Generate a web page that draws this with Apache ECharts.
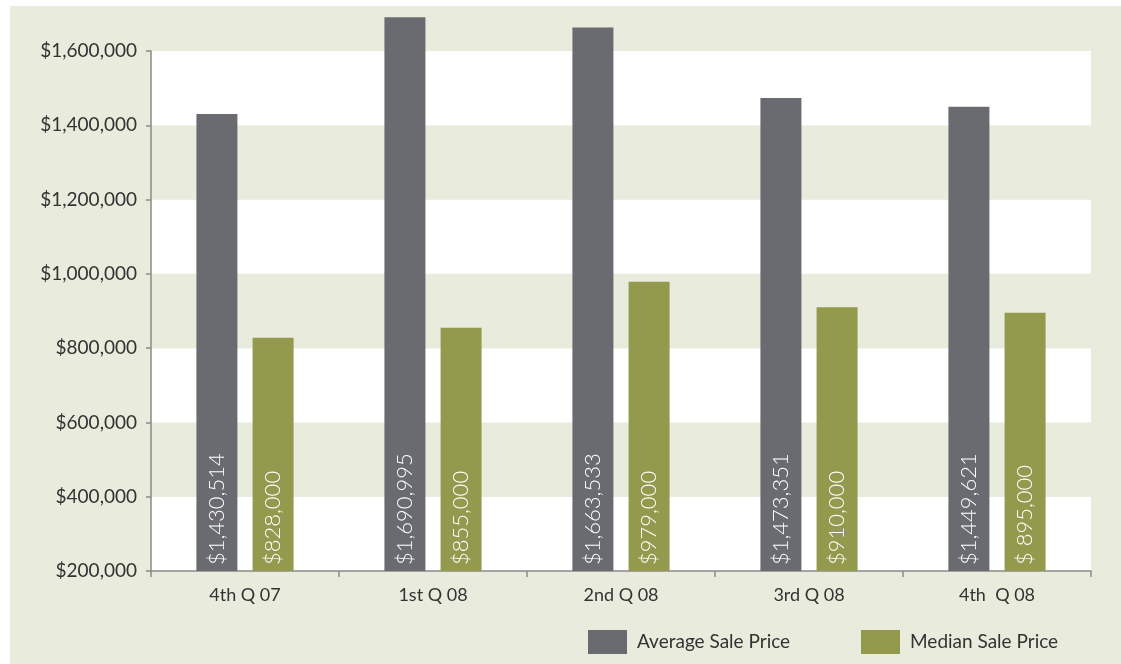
<!DOCTYPE html>
<html>
<head>
<meta charset="utf-8">
<script src="https://cdn.jsdelivr.net/npm/echarts@6/dist/echarts.min.js"></script>
<style>
  html, body { margin: 0; padding: 0; background: #ffffff; }
  #wrap { position: relative; width: 1121px; height: 664px; background: #ffffff; overflow: hidden; }
  #bg { position: absolute; left: 10px; top: 6px; right: 0; bottom: 0; background: #e9ebdc; }
  #chart { position: absolute; left: 0; top: 0; width: 1121px; height: 664px; }
</style>
</head>
<body>
<div id="wrap">
  <div id="bg"></div>
  <div id="chart"></div>
</div>
<script>
const categories = ['4th Q 07', '1st Q 08', '2nd Q 08', '3rd Q 08', '4th  Q 08'];
const averageSalePrice = [1430514, 1690995, 1663533, 1473351, 1449621];
const medianSalePrice = [828000, 855000, 979000, 910000, 895000];
const medianLabels = ['$828,000', '$855,000', '$979,000', '$910,000', '$ 895,000'];
const yTickMin = 200000;
const yTickMax = 1600000;
const yTickStep = 200000;
const yPlotMax = 1700000; // room above the last tick for the tallest bar

function money(v) {
  return '$' + Math.round(v).toLocaleString('en-US');
}

// Layout: axis ticks span y=51 (max tick) to y=571 (min tick)
const axisTopPx = 51, axisBottomPx = 571;
const pxPerUnit = (axisBottomPx - axisTopPx) / (yTickMax - yTickMin);
const plotTopPx = axisTopPx - (yPlotMax - yTickMax) * pxPerUnit;

const chart = echarts.init(document.getElementById('chart'), null, { renderer: 'canvas' });
const fontFamily = 'Lato, "Open Sans", sans-serif';
const axisColor = '#8a8a8a';
const labelCommon = {
  show: true,
  position: 'insideBottom',
  rotate: 90,
  align: 'left',
  verticalAlign: 'middle',
  distance: 6,
  color: '#ffffff',
  fontSize: 22,
  fontWeight: 300,
  fontFamily: fontFamily
};

chart.setOption({
  backgroundColor: 'transparent',
  animation: false,
  grid: [
    { left: 151, right: 30, top: plotTopPx, bottom: 664 - axisBottomPx },
    { left: 151, right: 30, top: axisTopPx, bottom: 664 - axisBottomPx }
  ],
  legend: [
    {
      left: 588, top: 630, itemWidth: 39, itemHeight: 24, padding: 0,
      icon: 'rect',
      data: ['Average Sale Price'],
      textStyle: { fontSize: 19, color: '#333333', fontFamily: fontFamily, padding: [0, 0, 0, 5] }
    },
    {
      left: 861, top: 630, itemWidth: 39, itemHeight: 24, padding: 0,
      icon: 'rect',
      data: ['Median Sale Price'],
      textStyle: { fontSize: 19, color: '#333333', fontFamily: fontFamily, padding: [0, 0, 0, 5] }
    }
  ],
  xAxis: [
    {
      type: 'category',
      gridIndex: 0,
      data: categories,
      axisLine: { lineStyle: { color: axisColor, width: 1.5 } },
      axisTick: { show: true, length: 6, lineStyle: { color: axisColor, width: 1.5 } },
      axisLabel: { color: '#333333', fontSize: 18, fontFamily: fontFamily, margin: 15 }
    },
    { type: 'category', gridIndex: 1, data: categories, show: false }
  ],
  yAxis: [
    {
      type: 'value',
      gridIndex: 0,
      min: yTickMin,
      max: yPlotMax,
      interval: yTickStep,
      axisLine: { show: false },
      axisTick: { show: false },
      axisLabel: { show: false },
      splitLine: { show: false },
      splitArea: { show: true, areaStyle: { color: ['#ffffff', '#e9ebdc'] } }
    },
    {
      type: 'value',
      gridIndex: 1,
      min: yTickMin,
      max: yTickMax,
      interval: yTickStep,
      axisLine: { show: true, lineStyle: { color: axisColor, width: 1.5 } },
      axisTick: { show: true, length: 5, lineStyle: { color: axisColor, width: 1.5 } },
      axisLabel: { color: '#333333', fontSize: 19, fontFamily: fontFamily, margin: 14, formatter: money },
      splitLine: { show: false },
      splitArea: { show: false }
    }
  ],
  series: [
    {
      name: 'Average Sale Price',
      type: 'bar',
      xAxisIndex: 0, yAxisIndex: 0,
      data: averageSalePrice,
      barWidth: 41,
      barGap: '37%',
      itemStyle: { color: '#6a6b70' },
      label: Object.assign({}, labelCommon, { formatter: p => money(p.value) })
    },
    {
      name: 'Median Sale Price',
      type: 'bar',
      xAxisIndex: 0, yAxisIndex: 0,
      data: medianSalePrice,
      barWidth: 41,
      barGap: '37%',
      itemStyle: { color: '#939a4e' },
      label: Object.assign({}, labelCommon, { formatter: p => medianLabels[p.dataIndex] })
    }
  ]
});
</script>
</body>
</html>
